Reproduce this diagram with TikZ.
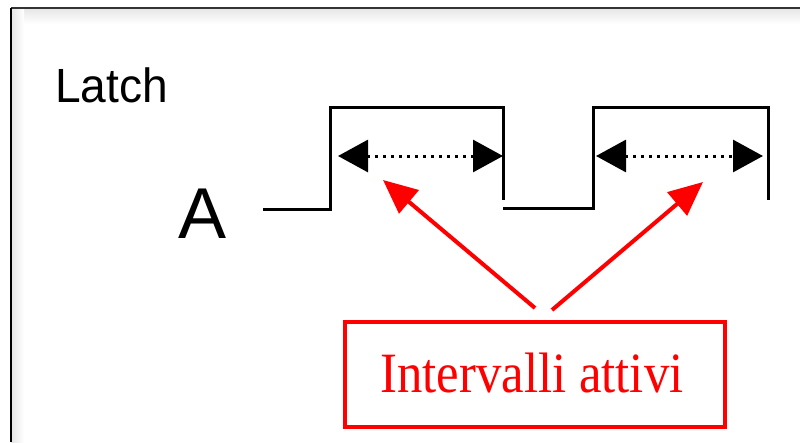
\documentclass[tikz,border=0pt]{standalone}
\usepackage{fontspec}
\setmainfont{Liberation Serif}
\newfontfamily\helv{Liberation Sans}
\usetikzlibrary{arrows.meta}
\begin{document}
\begin{tikzpicture}[x=1pt,y=-1pt,
  wave/.style={line width=3pt,line cap=butt,line join=miter},
  span/.style={line width=3pt,dash pattern=on 3pt off 5pt,{Triangle[length=30pt,width=32pt]}-{Triangle[length=30pt,width=32pt]}},
  callout/.style={draw=red,line width=4pt,-{Triangle[length=34pt,width=30pt]}},
  labelbox/.style={draw=red,line width=4pt,minimum width=380pt,minimum height=105pt,inner sep=0pt}]
\useasboundingbox (0,0) rectangle (800,442);
\fill[white] (0,0) rectangle (800,442);
% inner shadow of frame
\shade[top color=black!10,bottom color=white] (11,8) rectangle (800,24);
\shade[left color=black!10,right color=white] (11,8) rectangle (24,442);
\fill[white] (24,24) rectangle (800,442);
\draw[black!80,line width=2.5pt] (11,8) -- (800,8);
\draw[black,line width=2.5pt] (11,8) -- (11,442);
% texts
\node[anchor=base west,inner sep=0pt,font=\helv\fontsize{48}{48}\selectfont] (latch) at (55,102) {\scalebox{0.96}[1]{Latch}};
\node[anchor=base west,inner sep=0pt,font=\helv\fontsize{72}{72}\selectfont] (siga) at (178,238) {A};
% waveform
\coordinate (w0) at (263,209);
\coordinate (w1) at (330,209);
\coordinate (w2) at (330,107);
\coordinate (w3) at (503,107);
\coordinate (w4) at (503,200);
\coordinate (w5) at (503,208);
\coordinate (w6) at (593,208);
\coordinate (w7) at (593,107);
\coordinate (w8) at (768,107);
\coordinate (w9) at (768,200);
\draw[wave] (w0) -- (w1) -- (w2) -- (w3) -- (w4);
\draw[wave] (w5) -- (w6) -- (w7) -- (w8) -- (w9);
% active spans
\coordinate (s1a) at (338,156);
\coordinate (s1b) at (503,156);
\coordinate (s2a) at (596,156);
\coordinate (s2b) at (763,156);
\draw[span] (s1a) -- (s1b);
\draw[span] (s2a) -- (s2b);
% label box
\node[labelbox] (box) at (535,374.5) {};
\node[anchor=base,inner sep=0pt,text=red,font=\fontsize{57}{57}\selectfont] (lbl) at (532,392) {\scalebox{0.89}[1]{Intervalli attivi}};
\coordinate (t1) at (535,308);
\coordinate (t2) at (552,310);
\coordinate (h1) at (383,180);
\coordinate (h2) at (703,182);
\draw[callout] (t1) -- (h1);
\draw[callout] (t2) -- (h2);
\end{tikzpicture}
\end{document}
